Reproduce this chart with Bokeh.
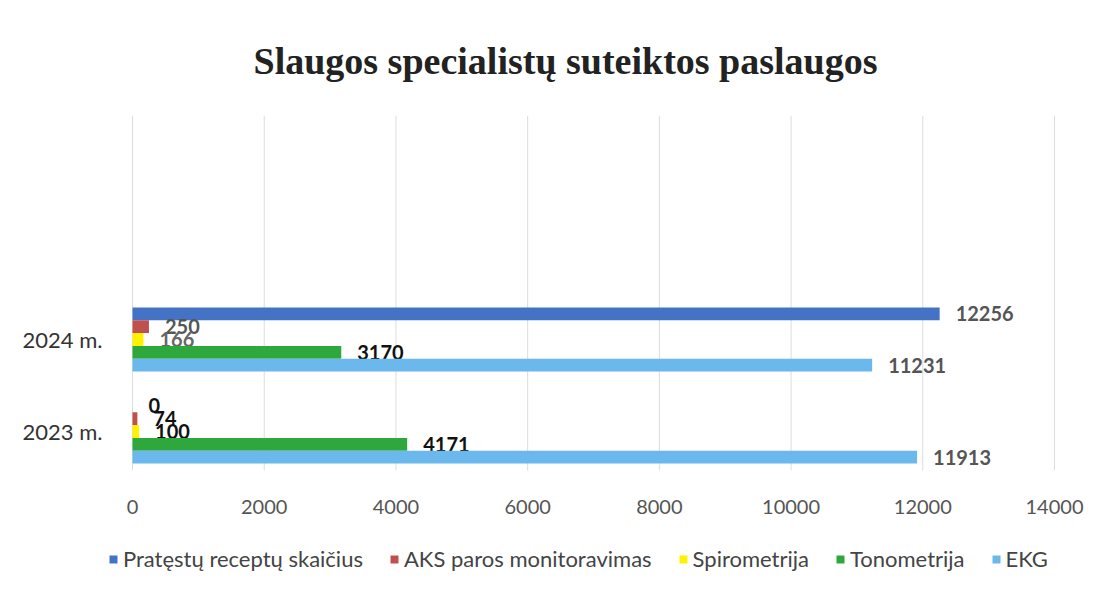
from bokeh.plotting import figure
from bokeh.models import (ColumnDataSource, FixedTicker, Legend, LegendItem, Range1d, Title)
from bokeh.core.properties import value
from bokeh.embed import file_html
from bokeh.resources import INLINE

# ---- data ----
categories = ["2023 m.", "2024 m."]
series = ["Pratęstų receptų skaičius", "AKS paros monitoravimas", "Spirometrija", "Tonometrija", "EKG"]
pratesti = [0, 12256]
aks = [74, 250]
spiro = [100, 166]
tono = [4171, 3170]
ekg = [11913, 11231]
x_ticks = [0, 2000, 4000, 6000, 8000, 10000, 12000, 14000]

values = [pratesti, aks, spiro, tono, ekg]
colors = ["#4472C4", "#C0504D", "#FFF200", "#2EA83C", "#6AB8EC"]
label_colors = [["#111111", "#555555"], ["#111111", "#555555"], ["#111111", "#666666"],
                ["#111111", "#111111"], ["#555555", "#555555"]]

# ---- layout constants (data units of the plot area) ----
Y_LO, Y_HI = -1.674, 3.435     # plot area extends below the value axis to host the legend
GRID_BOTTOM = -0.424           # where the gridlines end
XAXIS_AT = -0.989              # where the value-axis labels sit
X_LO, X_HI = -364.4, 14546.6   # margins around 0..14000 so labels are not clipped

FONT = "Lato"
p = figure(frame_width=982, frame_height=470, output_backend="svg", toolbar_location=None,
           x_range=Range1d(X_LO, X_HI), y_range=Range1d(Y_LO, Y_HI),
           x_axis_location="above",
           min_border_left=108, min_border_right=10, min_border_top=115, min_border_bottom=0)
p.outline_line_color = None
p.background_fill_color = "white"
p.border_fill_color = "white"
p.xgrid.grid_line_color = None
p.ygrid.grid_line_color = None

# vertical gridlines
p.segment(x0=x_ticks, x1=x_ticks, y0=[GRID_BOTTOM] * len(x_ticks), y1=[Y_HI] * len(x_ticks),
          line_color="#dcdcdc", line_width=1)

step = 0.139
bar_h = 0.139
items = []
for i, (name, vals, col) in enumerate(zip(series, values, colors)):
    ys = [c + (2 - i) * step for c in range(len(categories))]
    src = ColumnDataSource(dict(y=ys, right=vals, lab=[str(v) for v in vals], tc=label_colors[i]))
    r = p.hbar(y="y", left=0, right="right", height=bar_h, source=src, color=col, line_color=None)
    p.text(x="right", y="y", text="lab", source=src, x_offset=16, text_align="left",
           text_baseline="middle", text_font=value(FONT), text_font_style="bold",
           text_font_size="20px", text_color="tc")
    items.append(LegendItem(label=name, renderers=[r]))

xa = p.xaxis[0]
xa.fixed_location = XAXIS_AT
xa.ticker = FixedTicker(ticks=x_ticks)
xa.axis_line_color = None
xa.major_tick_line_color = None
xa.minor_tick_line_color = None
xa.major_label_standoff = 2
xa.major_label_text_font = FONT
xa.major_label_text_font_size = "20px"
xa.major_label_text_color = "#555555"

p.yaxis.ticker = FixedTicker(ticks=[0, 1])
p.yaxis.major_label_overrides = {0: categories[0], 1: categories[1]}
p.yaxis.axis_line_color = None
p.yaxis.major_tick_line_color = None
p.yaxis.minor_tick_line_color = None
p.yaxis.major_label_standoff = 0
p.yaxis.major_label_text_font = FONT
p.yaxis.major_label_text_font_size = "22px"
p.yaxis.major_label_text_color = "#333333"

legend = Legend(items=items, orientation="horizontal", location=(0, 13), nrows=1,
                label_text_font=FONT, label_text_font_size="22px", label_text_color="#444444",
                glyph_width=10, glyph_height=10, spacing=26, label_standoff=5,
                border_line_color=None, background_fill_alpha=0, margin=0, padding=0)
p.add_layout(legend, "center")

p.title = Title(text="Slaugos specialistų suteiktos paslaugos", align="left", offset=145,
                text_font="Liberation Serif", text_font_style="bold", text_font_size="38px",
                text_color="#222222", standoff=68)

open("out.html", "w").write(file_html(p, INLINE))
